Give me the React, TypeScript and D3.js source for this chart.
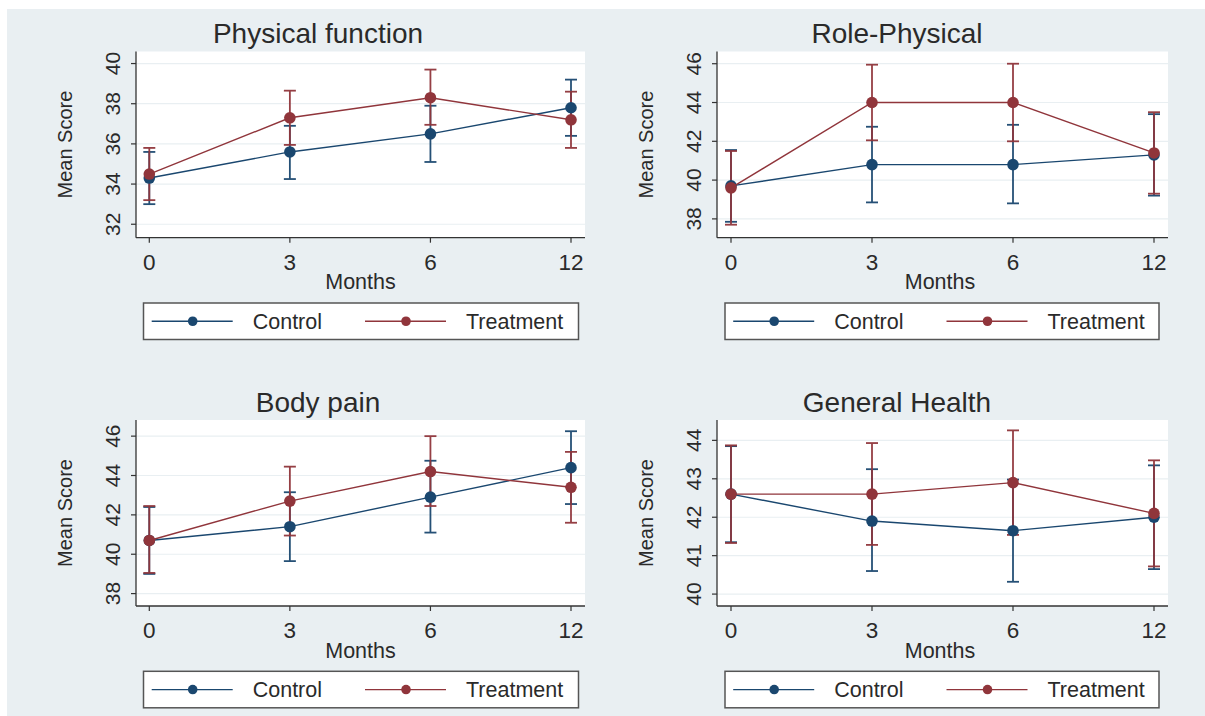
import React from "react";
import * as d3 from "d3";

// ---------- Data ----------
const months = ["0", "3", "6", "12"];
const panelTitles = ["Physical function", "Role-Physical", "Body pain", "General Health"];
const seriesNames = ["Control", "Treatment"];

// Physical function
const pfControl = [34.3, 35.6, 36.5, 37.8];
const pfControlLo = [33.0, 34.25, 35.1, 36.4];
const pfControlHi = [35.6, 36.9, 37.9, 39.2];
const pfTreat = [34.5, 37.3, 38.3, 37.2];
const pfTreatLo = [33.2, 35.95, 36.95, 35.8];
const pfTreatHi = [35.8, 38.65, 39.7, 38.6];
const pfTicks = [32, 34, 36, 38, 40];
const pfDomain = [31.33, 40.6];

// Role-Physical
const rpControl = [39.7, 40.8, 40.8, 41.3];
const rpControlLo = [37.85, 38.85, 38.8, 39.2];
const rpControlHi = [41.55, 42.75, 42.85, 43.4];
const rpTreat = [39.6, 44.0, 44.0, 41.4];
const rpTreatLo = [37.7, 42.05, 42.0, 39.3];
const rpTreatHi = [41.5, 45.95, 46.0, 43.5];
const rpTicks = [38, 40, 42, 44, 46];
const rpDomain = [37.03, 46.63];

// Body pain
const bpControl = [40.7, 41.4, 42.9, 44.4];
const bpControlLo = [39.0, 39.65, 41.1, 42.55];
const bpControlHi = [42.4, 43.15, 44.75, 46.25];
const bpTreat = [40.7, 42.7, 44.2, 43.4];
const bpTreatLo = [39.05, 40.95, 42.45, 41.6];
const bpTreatHi = [42.45, 44.45, 46.0, 45.2];
const bpTicks = [38, 40, 42, 44, 46];
const bpDomain = [37.37, 46.82];

// General Health
const ghControl = [42.6, 41.9, 41.65, 42.0];
const ghControlLo = [41.35, 40.6, 40.32, 40.65];
const ghControlHi = [43.85, 43.25, 42.98, 43.35];
const ghTreat = [42.6, 42.6, 42.9, 42.1];
const ghTreatLo = [41.33, 41.28, 41.54, 40.72];
const ghTreatHi = [43.87, 43.93, 44.26, 43.48];
const ghTicks = [40, 41, 42, 43, 44];
const ghDomain = [39.69, 44.53];

const panels = [
  { title: panelTitles[0], c: pfControl, cLo: pfControlLo, cHi: pfControlHi, t: pfTreat, tLo: pfTreatLo, tHi: pfTreatHi, ticks: pfTicks, domain: pfDomain, col: 0, row: 0 },
  { title: panelTitles[1], c: rpControl, cLo: rpControlLo, cHi: rpControlHi, t: rpTreat, tLo: rpTreatLo, tHi: rpTreatHi, ticks: rpTicks, domain: rpDomain, col: 1, row: 0 },
  { title: panelTitles[2], c: bpControl, cLo: bpControlLo, cHi: bpControlHi, t: bpTreat, tLo: bpTreatLo, tHi: bpTreatHi, ticks: bpTicks, domain: bpDomain, col: 0, row: 1 },
  { title: panelTitles[3], c: ghControl, cLo: ghControlLo, cHi: ghControlHi, t: ghTreat, tLo: ghTreatLo, tHi: ghTreatHi, ticks: ghTicks, domain: ghDomain, col: 1, row: 1 },
];

// ---------- Layout ----------
const W = 1205;
const H = 716;
const cols = [
  { axisX: 136, right: 585, x0: 149.3, x1: 571, titleX: 318, midX: 360.5, legendX: 143.5, legendW: 435 },
  { axisX: 717, right: 1168, x0: 731, x1: 1154, titleX: 897, midX: 940, legendX: 725, legendW: 434 },
];
const rows = [
  { top: 51.5, axisY: 237.7 },
  { top: 420, axisY: 606 },
];
const BG = "#e9eff2";
const CTRL = "#1a476f";
const TRT = "#90353b";
const TEXT = "#2a2a2a";
const FONT = "'Liberation Sans', Arial, sans-serif";

function Panel({ p }: { p: any }) {
  const col = cols[p.col];
  const row = rows[p.row];
  const x = d3.scalePoint<string>().domain(months).range([col.x0, col.x1]).padding(0);
  const y = d3.scaleLinear().domain(p.domain).range([row.axisY, row.top]);
  const line = d3
    .line<number>()
    .x((_, i) => x(months[i]) as number)
    .y((d) => y(d));

  const series = [
    { name: seriesNames[0], v: p.c, lo: p.cLo, hi: p.cHi, color: CTRL },
    { name: seriesNames[1], v: p.t, lo: p.tLo, hi: p.tHi, color: TRT },
  ];
  const capW = 6;
  const legTop = row.axisY + 65.3;
  const legH = 36.5;
  const legMid = legTop + legH / 2;

  return (
    <g>
      {/* title */}
      <text x={col.titleX} y={row.top - 8.5} textAnchor="middle" fontSize={28} fill={TEXT} fontFamily={FONT}>
        {p.title}
      </text>
      {/* plot region */}
      <rect x={col.axisX} y={row.top} width={col.right - col.axisX} height={row.axisY - row.top} fill="#ffffff" />
      {p.ticks.map((t: number) => (
        <line key={"g" + t} x1={col.axisX} x2={col.right} y1={y(t)} y2={y(t)} stroke="#e9eff2" strokeWidth={1.2} />
      ))}
      {/* axes */}
      <line x1={col.axisX} x2={col.axisX} y1={row.top} y2={row.axisY} stroke="#333" strokeWidth={1.3} />
      <line x1={col.axisX} x2={col.right} y1={row.axisY} y2={row.axisY} stroke="#333" strokeWidth={1.3} />
      {p.ticks.map((t: number) => (
        <g key={"yt" + t}>
          <line x1={col.axisX - 5} x2={col.axisX} y1={y(t)} y2={y(t)} stroke="#333" strokeWidth={1.2} />
          <text
            transform={`translate(${col.axisX - 16.5},${y(t)}) rotate(-90)`}
            textAnchor="middle"
            fontSize={21}
            fill={TEXT}
            fontFamily={FONT}
          >
            {t}
          </text>
        </g>
      ))}
      {months.map((m) => (
        <g key={"xt" + m}>
          <line x1={x(m)} x2={x(m)} y1={row.axisY} y2={row.axisY + 5} stroke="#333" strokeWidth={1.2} />
          <text x={x(m)} y={row.axisY + 32} textAnchor="middle" fontSize={22.5} fill={TEXT} fontFamily={FONT}>
            {m}
          </text>
        </g>
      ))}
      <text x={col.midX} y={row.axisY + 51.5} textAnchor="middle" fontSize={21.5} fill={TEXT} fontFamily={FONT}>
        Months
      </text>
      <text
        transform={`translate(${col.axisX - 64},${(row.top + row.axisY) / 2}) rotate(-90)`}
        textAnchor="middle"
        fontSize={20}
        fill={TEXT}
        fontFamily={FONT}
      >
        Mean Score
      </text>
      {/* error bars */}
      {series.map((s) =>
        months.map((m, i) => (
          <g key={s.name + "ci" + m} stroke={s.color} strokeWidth={1.8} opacity={0.95}>
            <line x1={x(m)} x2={x(m)} y1={y(s.lo[i])} y2={y(s.hi[i])} />
            <line x1={(x(m) as number) - capW} x2={(x(m) as number) + capW} y1={y(s.lo[i])} y2={y(s.lo[i])} />
            <line x1={(x(m) as number) - capW} x2={(x(m) as number) + capW} y1={y(s.hi[i])} y2={y(s.hi[i])} />
          </g>
        ))
      )}
      {/* lines + markers */}
      {series.map((s) => (
        <g key={s.name + "ln"}>
          <path d={line(s.v) as string} fill="none" stroke={s.color} strokeWidth={1.4} />
          {s.v.map((v: number, i: number) => (
            <circle key={i} cx={x(months[i])} cy={y(v)} r={5.8} fill={s.color} />
          ))}
        </g>
      ))}
      {/* legend */}
      <rect x={col.legendX} y={legTop} width={col.legendW} height={legH} fill="#ffffff" stroke="#555" strokeWidth={1.5} />
      {series.map((s, k) => {
        const lx = col.legendX + (k === 0 ? 8.2 : 221.5);
        const tx = col.legendX + (k === 0 ? 109.2 : 322.5);
        return (
          <g key={s.name + "leg"}>
            <line x1={lx} x2={lx + 81} y1={legMid} y2={legMid} stroke={s.color} strokeWidth={1.3} />
            <circle cx={lx + 41} cy={legMid} r={4.8} fill={s.color} />
            <text x={tx} y={legMid + 7.5} fontSize={21.5} fill={TEXT} fontFamily={FONT}>
              {s.name}
            </text>
          </g>
        );
      })}
    </g>
  );
}

export default function App() {
  return (
    <svg
      width={W}
      height={H}
      viewBox={`0 0 ${W} ${H}`}
      style={{ position: "absolute", left: 0, top: 0, display: "block" }}
    >
      <rect x={0} y={0} width={W} height={H} fill="#ffffff" />
      <rect x={7} y={9} width={W - 7} height={H - 9} fill={BG} />
      {panels.map((p, i) => (
        <Panel key={i} p={p} />
      ))}
    </svg>
  );
}
